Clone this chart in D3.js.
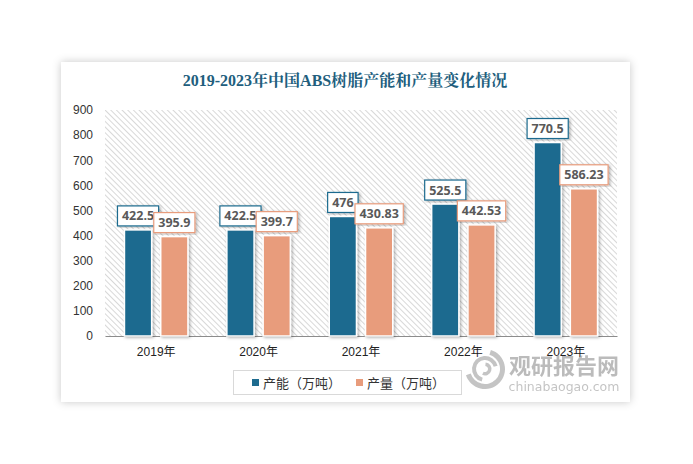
<!DOCTYPE html>
<html><head><meta charset="utf-8">
<script src="https://cdn.jsdelivr.net/npm/d3@7/dist/d3.min.js"></script>
<style>
html,body{margin:0;padding:0;background:#fff;}
svg{display:block;}
</style></head>
<body>
<svg id="chart" width="693" height="464"></svg>
<script>
const title = "2019-2023年中国ABS树脂产能和产量变化情况";
const categories = ["2019年","2020年","2021年","2022年","2023年"];
const seriesNames = ["产能（万吨）","产量（万吨）"];
const capacity = [422.5, 422.5, 476, 525.5, 770.5];
const production = [395.9, 399.7, 430.83, 442.53, 586.23];
const capacityLabels = ["422.5","422.5","476","525.5","770.5"];
const productionLabels = ["395.9","399.7","430.83","442.53","586.23"];
const yTicks = [0,100,200,300,400,500,600,700,800,900];
const colors = ["#1d6b8f","#e89c7c"];

const svg = d3.select("#chart");
const defs = svg.append("defs");

const cardShadow = defs.append("filter").attr("id","cardShadow").attr("x","-10%").attr("y","-10%").attr("width","120%").attr("height","120%");
cardShadow.append("feDropShadow").attr("dx",0).attr("dy",0).attr("stdDeviation",4).attr("flood-color","#000").attr("flood-opacity",0.22);

const barShadow = defs.append("filter").attr("id","barShadow").attr("x","-30%").attr("y","-10%").attr("width","160%").attr("height","120%");
barShadow.append("feDropShadow").attr("dx",1.5).attr("dy",1).attr("stdDeviation",1.5).attr("flood-color","#000").attr("flood-opacity",0.3);

const pat = defs.append("pattern").attr("id","hatch").attr("patternUnits","userSpaceOnUse")
  .attr("width",4).attr("height",4).attr("patternTransform","rotate(-45)");
pat.append("rect").attr("width",4).attr("height",4).attr("fill","#ffffff");
pat.append("line").attr("x1",0).attr("y1",0).attr("x2",0).attr("y2",4).attr("stroke","#cfcfcf").attr("stroke-width",1.6);

// card
svg.append("rect").attr("x",61).attr("y",62).attr("width",569).attr("height",340)
  .attr("fill","#fff").attr("filter","url(#cardShadow)");

// title
svg.append("text").attr("x",345).attr("y",86).attr("text-anchor","middle")
  .attr("font-family","'Liberation Serif','Noto Serif CJK SC','Noto Sans CJK SC',serif")
  .attr("font-weight","bold").attr("font-size",16).attr("fill","#215e7d").text(title);

const plotL = 105, plotR = 617, plotT = 110, plotB = 336;
const y = d3.scaleLinear().domain([0,900]).range([plotB, plotT]);
const x0 = d3.scaleBand().domain(categories).range([plotL, plotR]).padding(0);
const bw = x0.bandwidth();
const x1 = d3.scaleBand().domain(seriesNames).range([bw*0.19, bw*0.81]).paddingInner(0.25);

// hatched plot background
svg.append("rect").attr("x",plotL).attr("y",plotT).attr("width",plotR-plotL).attr("height",plotB-plotT)
  .attr("fill","url(#hatch)");

// y axis
const yAxis = svg.append("g").attr("transform",`translate(${plotL},0)`)
  .call(d3.axisLeft(y).tickValues(yTicks).tickSize(0).tickPadding(12));
yAxis.select(".domain").remove();
yAxis.selectAll("text").attr("font-family","'Liberation Sans','DejaVu Sans',sans-serif")
  .attr("font-size",12).attr("fill","#333");

// x axis
const xAxis = svg.append("g").attr("transform",`translate(0,${plotB})`)
  .call(d3.axisBottom(x0).tickSize(0).tickPadding(11));
xAxis.select(".domain").attr("stroke","#8c8c8c").attr("stroke-width",1.2);
xAxis.selectAll("text").attr("font-family","'Liberation Sans','Noto Sans CJK SC',sans-serif")
  .attr("font-size",12).attr("fill","#222");

const data = categories.map((c,i)=>({cat:c, vals:[
  {s:seriesNames[0], v:capacity[i], lab:capacityLabels[i], col:colors[0]},
  {s:seriesNames[1], v:production[i], lab:productionLabels[i], col:colors[1]}
]}));

const groups = svg.append("g").selectAll("g").data(data).join("g")
  .attr("transform", d=>`translate(${x0(d.cat)},0)`);

groups.selectAll("rect").data(d=>d.vals).join("rect")
  .attr("x", d=>x1(d.s)).attr("width", x1.bandwidth())
  .attr("y", d=>y(d.v)).attr("height", d=>plotB - y(d.v))
  .attr("fill", d=>d.col).attr("stroke","#fff").attr("stroke-width",1.5)
  .attr("filter","url(#barShadow)");

// labels
groups.each(function(d){
  const g = d3.select(this);
  d.vals.forEach(v=>{
    const cx = x1(v.s) + x1.bandwidth()/2;
    const by = y(v.v) - 4;
    const lg = g.append("g");
    const box = lg.append("rect");
    const t = lg.append("text").attr("x",cx).attr("y",by-5.5).attr("text-anchor","middle")
      .attr("font-family","'Open Sans','DejaVu Sans',sans-serif").attr("font-weight","bold")
      .attr("font-size",12.5).attr("fill","#595959").text(v.lab);
    const w = t.node().getComputedTextLength() + 9;
    box.attr("x",cx - w/2).attr("y",by-20).attr("width",w).attr("height",20)
      .attr("fill","#fff").attr("stroke",v.col).attr("stroke-width",1.2).attr("filter","url(#barShadow)");
  });
});

// legend
svg.append("rect").attr("x",233.5).attr("y",370.5).attr("width",228).attr("height",24)
  .attr("fill","#fff").attr("stroke","#d9d9d9");
const legendX = [252, 356];
seriesNames.forEach((s,i)=>{
  svg.append("rect").attr("x",legendX[i]).attr("y",379).attr("width",7).attr("height",7).attr("fill",colors[i]);
  svg.append("text").attr("x",legendX[i]+11).attr("y",387.5)
    .attr("font-family","'Noto Sans CJK SC',sans-serif").attr("font-size",13).attr("fill","#333").text(s);
});

// watermark
const wm = svg.append("g").attr("opacity",0.5);
const arc = d3.arc();
[[15,20,0.3,4.4],[9,13,3.4,7.6],[3,6.5,0.1,3.6]].forEach(a=>{
  wm.append("path").attr("transform","translate(485,369)")
    .attr("d", arc({innerRadius:a[0], outerRadius:a[1], startAngle:a[2], endAngle:a[3]}))
    .attr("fill","#8a8a8a");
});
wm.append("text").attr("x",564).attr("y",374).attr("text-anchor","middle")
  .attr("font-family","'Noto Sans CJK SC',sans-serif").attr("font-weight","bold").attr("font-size",22)
  .attr("fill","#7a7a7a").text("观研报告网");
wm.append("text").attr("x",564).attr("y",391).attr("text-anchor","middle")
  .attr("font-family","'DejaVu Sans',sans-serif").attr("font-size",12.5).attr("fill","#8a8a8a")
  .text("chinabaogao.com");
</script>
</body></html>
